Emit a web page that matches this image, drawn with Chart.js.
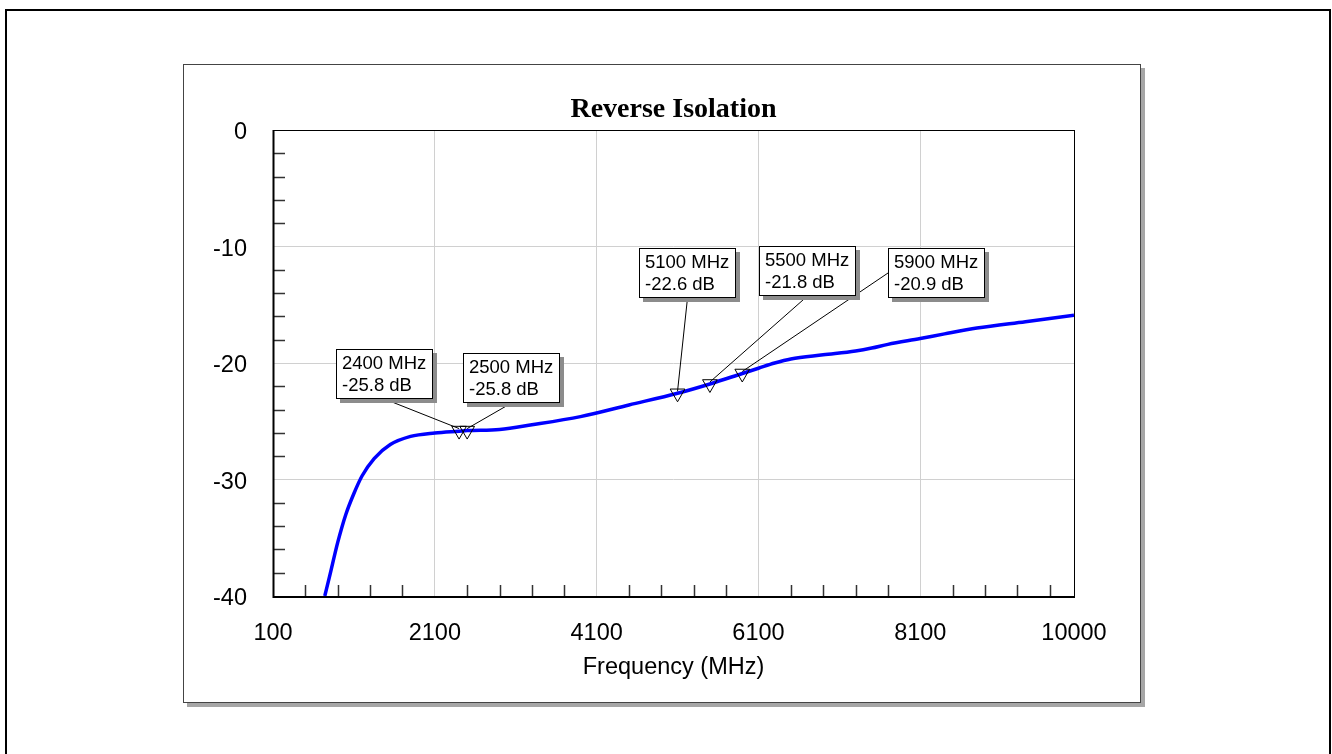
<!DOCTYPE html>
<html>
<head>
<meta charset="utf-8">
<script src="https://cdn.jsdelivr.net/npm/chart.js@4/dist/chart.umd.min.js"></script>
<style>
  html, body { margin: 0; padding: 0; background: #fff; }
  #wrap { position: relative; width: 1332px; height: 754px; }
  canvas { display: block; }
</style>
</head>
<body>
<div id="wrap"><canvas id="c" width="1332" height="754"></canvas></div>
<script>
// ---- Data ----
const freqMHz = [740, 800, 900, 1000, 1100, 1200, 1350, 1550, 1800, 2100, 2400, 2500, 2900, 3300, 3900, 4500, 5100, 5500, 5900, 6100, 6300, 6500, 6900, 7300, 7500, 7700, 8100, 8400, 8800, 9400, 10000];
const isolationDb = [-40.0, -38.3, -35.4, -33.0, -31.2, -29.7, -28.2, -27.0, -26.3, -26.0, -25.85, -25.8, -25.7, -25.3, -24.6, -23.6, -22.6, -21.8, -20.9, -20.45, -20.0, -19.65, -19.3, -18.97, -18.72, -18.4, -17.9, -17.5, -17.0, -16.45, -15.9];

const markerFreqMHz = [2400, 2500, 5100, 5500, 5900];
const markerDb = [-25.8, -25.8, -22.6, -21.8, -20.9];

const xTickValues = [100, 2100, 4100, 6100, 8100, 10000];
const yTickValues = [0, -10, -20, -30, -40];
const xMinorStep = 400;
const yMinorStep = 2;

const chartTitle = 'Reverse Isolation';
const xAxisTitle = 'Frequency (MHz)';

// callout placement (top-left corner of each box, in data units)
const calloutFreq = [880, 2448, 4627, 6110, 7697];
const calloutDb = [-18.8, -19.1, -10.15, -9.93, -10.15];
const calloutAnchor = ['bottom', 'bottom', 'bottom', 'bottom', 'left'];

// ---- Styling ----
const SANS = "'Liberation Sans', Arial, sans-serif";
const SERIF = "'Liberation Serif', 'Times New Roman', serif";

const framePlugin = {
  id: 'frame',
  beforeDraw(chart) {
    const ctx = chart.ctx;
    ctx.save();
    ctx.fillStyle = '#fff';
    ctx.fillRect(0, 0, chart.width, chart.height);
    // outer border
    ctx.strokeStyle = '#000';
    ctx.lineWidth = 2;
    ctx.strokeRect(6, 10, 1324, 800);
    // panel shadow
    ctx.fillStyle = '#a6a6a6';
    ctx.fillRect(187, 68, 958, 639);
    // panel
    ctx.fillStyle = '#fff';
    ctx.fillRect(183, 64, 958, 639);
    ctx.strokeStyle = '#444';
    ctx.lineWidth = 1;
    ctx.strokeRect(183.5, 64.5, 957, 638);
    ctx.restore();
  },
  afterDatasetsDraw(chart) {
    const ctx = chart.ctx;
    const a = chart.chartArea;
    const xs = chart.scales.x, ys = chart.scales.y;
    ctx.save();
    // minor ticks
    ctx.strokeStyle = '#333';
    ctx.lineWidth = 1.5;
    ctx.beginPath();
    for (let v = xTickValues[0] + xMinorStep; v < xTickValues[xTickValues.length - 1]; v += xMinorStep) {
      if (xTickValues.includes(v)) continue;
      const px = Math.round(xs.getPixelForValue(v)) + 0.5;
      ctx.moveTo(px, a.bottom);
      ctx.lineTo(px, a.bottom - 11);
    }
    for (let v = yTickValues[0] - yMinorStep; v > yTickValues[yTickValues.length - 1]; v -= yMinorStep) {
      if (yTickValues.includes(v)) continue;
      const py = Math.round(ys.getPixelForValue(v)) + 0.5;
      ctx.moveTo(a.left, py);
      ctx.lineTo(a.left + 12, py);
    }
    ctx.stroke();
    // plot border
    ctx.strokeStyle = '#000';
    ctx.lineWidth = 1;
    ctx.strokeRect(a.left + 0.5, a.top + 0.5, a.right - a.left, a.bottom - a.top);
    ctx.lineWidth = 2;
    ctx.beginPath();
    ctx.moveTo(a.left + 0.5, a.top);
    ctx.lineTo(a.left + 0.5, a.bottom + 1);
    ctx.lineTo(a.right + 1, a.bottom + 1);
    ctx.stroke();

    // callouts
    const W = 97, H = 50;
    const boxes = markerFreqMHz.map((f, i) => {
      const bx = Math.round(xs.getPixelForValue(calloutFreq[i]));
      const by = Math.round(ys.getPixelForValue(calloutDb[i]));
      const mx = xs.getPixelForValue(f);
      const my = ys.getPixelForValue(markerDb[i]);
      let ax, ay;
      if (calloutAnchor[i] === 'left') { ax = bx; ay = by + H / 2; }
      else { ax = bx + W / 2; ay = by + H; }
      return {bx, by, mx, my, ax, ay, f, d: markerDb[i]};
    });
    ctx.strokeStyle = '#000';
    ctx.lineWidth = 1;
    boxes.forEach(b => {
      ctx.beginPath();
      ctx.moveTo(b.ax, b.ay);
      ctx.lineTo(b.mx, b.my - 2);
      ctx.stroke();
    });
    boxes.forEach(b => {
      ctx.fillStyle = '#8c8c8c';
      ctx.fillRect(b.bx + 4, b.by + 4, W, H);
      ctx.fillStyle = '#fff';
      ctx.fillRect(b.bx, b.by, W, H);
      ctx.strokeStyle = '#000';
      ctx.lineWidth = 1;
      ctx.strokeRect(b.bx + 0.5, b.by + 0.5, W - 1, H - 1);
      ctx.fillStyle = '#000';
      ctx.font = '18.5px ' + SANS;
      ctx.textAlign = 'left';
      ctx.textBaseline = 'middle';
      ctx.fillText(b.f + ' MHz', b.bx + 6, b.by + 15);
      ctx.fillText(b.d.toFixed(1) + ' dB', b.bx + 6, b.by + 36.5);
    });
    ctx.restore();
  }
};

new Chart(document.getElementById('c'), {
  type: 'scatter',
  data: {
    datasets: [
      {
        label: 'S12',
        data: freqMHz.map((f, i) => ({x: f, y: isolationDb[i]})),
        showLine: true,
        borderColor: '#0000ff',
        borderWidth: 3.5,
        pointRadius: 0,
        cubicInterpolationMode: 'monotone',
        fill: false,
        order: 2
      },
      {
        label: 'Markers',
        data: markerFreqMHz.map((f, i) => ({x: f, y: markerDb[i]})),
        showLine: false,
        pointStyle: 'triangle',
        rotation: 180,
        pointRadius: 8.5,
        borderColor: '#000',
        borderWidth: 1,
        backgroundColor: 'rgba(0,0,0,0)',
        order: 1
      }
    ]
  },
  options: {
    responsive: false,
    animation: false,
    events: [],
    layout: { padding: { left: 0, right: 258, top: 0, bottom: 72 } },
    plugins: {
      legend: { display: false },
      tooltip: { enabled: false },
      title: {
        display: true,
        text: chartTitle,
        fullSize: false,
        color: '#000',
        font: { family: SERIF, size: 28, weight: 'bold' },
        padding: { top: 93, bottom: 3.4 }
      }
    },
    scales: {
      x: {
        type: 'linear',
        min: 100,
        max: 10000,
        afterBuildTicks: (s) => { s.ticks = xTickValues.map(v => ({value: v})); },
        afterFit: (s) => { s.height = 86; },
        border: { display: false },
        grid: {
          drawTicks: false,
          lineWidth: 1,
          color: (ctx) => (ctx.tick && (ctx.tick.value === 100 || ctx.tick.value === 10000)) ? 'rgba(0,0,0,0)' : '#d0d0d0'
        },
        ticks: {
          autoSkip: false,
          maxRotation: 0,
          padding: 23,
          color: '#000',
          font: { family: SANS, size: 23.5 },
          callback: (v) => String(v)
        },
        title: {
          display: true,
          text: xAxisTitle,
          color: '#000',
          font: { family: SANS, size: 23.5 },
          padding: { top: 0, bottom: 0 }
        }
      },
      y: {
        type: 'linear',
        min: -40,
        max: 0,
        afterBuildTicks: (s) => { s.ticks = yTickValues.map(v => ({value: v})); },
        afterFit: (s) => { s.width = 273; },
        border: { display: false },
        grid: {
          drawTicks: false,
          lineWidth: 1,
          color: (ctx) => (ctx.tick && (ctx.tick.value === 0 || ctx.tick.value === -40)) ? 'rgba(0,0,0,0)' : '#d0d0d0'
        },
        ticks: {
          autoSkip: false,
          padding: 26,
          labelOffset: 3,
          color: '#000',
          font: { family: SANS, size: 23.5 },
          callback: (v) => String(v)
        }
      }
    }
  },
  plugins: [framePlugin]
});
</script>
</body>
</html>
